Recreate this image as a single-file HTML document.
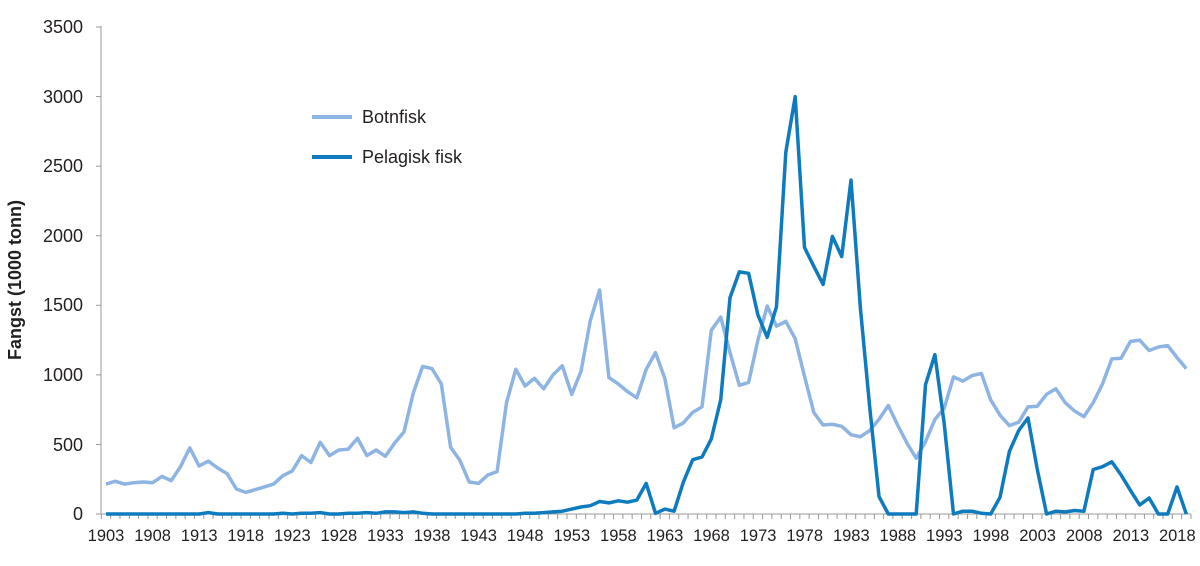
<!DOCTYPE html>
<html><head><meta charset="utf-8"><style>
body{margin:0;background:#fff;}
svg text{font-family:"Liberation Sans",sans-serif;fill:#231f20;}
</style></head><body>
<svg id="s" width="1200" height="561" xmlns="http://www.w3.org/2000/svg">
<line x1="101" y1="26" x2="101" y2="514" stroke="#999" stroke-width="1"/>
<line x1="101" y1="514" x2="1191" y2="514" stroke="#999" stroke-width="1"/>
<g font-size="18" text-anchor="end">
<text x="83" y="520">0</text><text x="83" y="451">500</text><text x="83" y="381">1000</text>
<text x="83" y="311">1500</text><text x="83" y="242">2000</text><text x="83" y="172">2500</text>
<text x="83" y="103">3000</text><text x="83" y="33">3500</text>
</g>
<g font-size="16.5" text-anchor="middle">
<text x="106" y="541">1903</text><text x="152.6" y="541">1908</text><text x="199.2" y="541">1913</text>
<text x="245.7" y="541">1918</text><text x="292.3" y="541">1923</text><text x="338.9" y="541">1928</text>
<text x="385.5" y="541">1933</text><text x="432.1" y="541">1938</text><text x="478.6" y="541">1943</text>
<text x="525.2" y="541">1948</text><text x="571.8" y="541">1953</text><text x="618.4" y="541">1958</text>
<text x="665" y="541">1963</text><text x="711.5" y="541">1968</text><text x="758.1" y="541">1973</text>
<text x="804.7" y="541">1978</text><text x="851.3" y="541">1983</text><text x="897.9" y="541">1988</text>
<text x="944.4" y="541">1993</text><text x="991" y="541">1998</text><text x="1037.6" y="541">2003</text>
<text x="1084.2" y="541">2008</text><text x="1130.8" y="541">2013</text><text x="1177.3" y="541">2018</text>
</g>
<text x="21" y="280" font-size="18" font-weight="bold" text-anchor="middle" transform="rotate(-90 21 280)">Fangst (1000 tonn)</text>
<line x1="312" y1="117" x2="352" y2="117" stroke="#8db4e2" stroke-width="4"/>
<text x="362" y="123" font-size="18">Botnfisk</text>
<line x1="312" y1="157" x2="352" y2="157" stroke="#0f7bbf" stroke-width="4"/>
<text x="362" y="163" font-size="18">Pelagisk fisk</text>
<g id="ticks" stroke="#999" stroke-width="1"></g>
<polyline id="b" fill="none" stroke="#8db4e2" stroke-width="3.5" stroke-linejoin="round"/>
<polyline id="p" fill="none" stroke="#0f7bbf" stroke-width="3.5" stroke-linejoin="round"/>
</svg>
<script>
var B=[215,235,215,225,230,225,270,240,340,475,345,380,330,290,180,155,175,195,215,275,310,420,370,515,420,460,465,545,420,460,415,510,590,870,1060,1045,935,480,385,230,220,280,305,800,1040,920,975,900,1000,1065,860,1025,1390,1610,980,935,880,835,1040,1160,975,620,655,730,770,1320,1415,1160,925,945,1250,1495,1350,1385,1260,990,730,640,645,630,570,555,600,680,780,640,510,400,520,680,760,985,955,995,1010,820,710,635,660,770,775,860,900,800,740,700,800,935,1115,1120,1240,1250,1175,1200,1210,1125,1045];
var P=[0,0,0,0,0,0,0,0,0,0,0,10,0,0,0,0,0,0,0,5,0,5,5,10,0,0,5,5,10,5,15,15,10,15,5,0,0,0,0,0,0,0,0,0,0,5,5,10,15,20,35,50,60,90,80,95,85,100,220,5,35,20,230,390,410,540,820,1555,1740,1730,1430,1270,1490,2600,3000,1915,1780,1650,1995,1850,2400,1480,770,125,0,0,0,0,930,1145,650,0,20,20,5,0,120,450,600,690,320,0,20,15,25,20,320,340,375,280,170,65,115,0,0,195,0];
function X(i){return 106+i*9.313;}function Y(v){return 514-v*0.13914;}
function pts(a){return a.map(function(v,i){return X(i).toFixed(1)+","+Y(v).toFixed(1)}).join(" ");}
document.getElementById("b").setAttribute("points",pts(B));
document.getElementById("p").setAttribute("points",pts(P));
var g=document.getElementById("ticks"),h="";
for(var i=-0.5;i<=117;i++){var x=X(i);if(x>1191)break;h+='<line x1="'+x+'" y1="514" x2="'+x+'" y2="519"/>';}
for(var k=0;k<=7;k++){var y=Y(k*500);h+='<line x1="96" y1="'+y+'" x2="101" y2="'+y+'"/>';}
g.innerHTML=h;
</script>
</body></html>
